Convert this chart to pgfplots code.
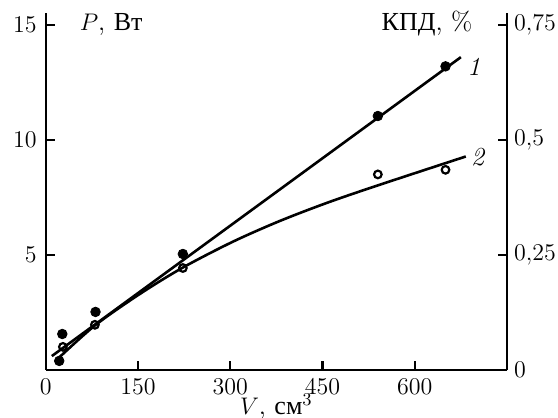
\documentclass[border=0pt]{standalone}
\usepackage{fontspec}
\newfontfamily\cyr{Liberation Serif}
\usepackage{pgfplots}
\pgfplotsset{compat=1.18}
\begin{document}
\begin{tikzpicture}
\pgfplotsset{
  common/.style={
    scale only axis, width=230.75pt, height=178.5pt,
    xmin=0, xmax=750,
    tick align=inside, major tick length=4.5pt,
    axis line style={line width=1.1pt, -},
    tick style={line width=1.1pt, black},
    ticklabel style={font=\fontsize{13}{15}\selectfont},
    label style={font=\fontsize{13}{15}\selectfont},
    clip=false,
  }
}
\begin{axis}[common,
  ymin=0, ymax=15.52,
  axis x line*=bottom, axis y line*=left,
  xtick={0,150,300,450,600}, ytick={5,10,15},
  xlabel={$V$, {\cyr см}$^3$},
  xlabel style={at={(axis description cs:0.5,0)}, anchor=base, yshift=-22.3pt},
  yticklabel style={xshift=-1pt},
  xticklabel style={yshift=-1pt},
]
\addplot[line width=1.3pt, no marks] coordinates {(10,0.6) (675,13.6)};
\addplot[line width=1.3pt, no marks, smooth, tension=0.5] coordinates {
  (16,0.39) (80,1.93) (153,3.30) (223,4.45) (304,5.57) (381,6.48) (460,7.29) (543,8.05) (683,9.28)};
\addplot[only marks, mark=*, mark size=2.4pt] coordinates {
  (22,0.39) (27,1.56) (81,2.52) (223,5.04) (540,11.04) (650,13.2)};
\addplot[only marks, mark=o, mark size=1.9pt, mark options={line width=1.1pt, fill=white}] coordinates {
  (28,1.0) (80,1.96) (223,4.43) (540,8.5) (650,8.7)};
\node[anchor=base west, font=\fontsize{13}{15}\selectfont] at (axis cs:44,14.75) {$P$, {\cyr Вт}};
\node[anchor=base east, font=\fontsize{13}{15}\selectfont] at (axis cs:705,14.75) {{\cyr КПД}, \%};
\node[font=\fontsize{13}{15}\selectfont\itshape] at (axis cs:696,13.17) {1};
\node[font=\fontsize{13}{15}\selectfont\itshape] at (axis cs:702,9.26) {2};
\coordinate (sw) at (rel axis cs:0,0);
\coordinate (ne) at (rel axis cs:1,1);
\end{axis}
\begin{axis}[common,
  ymin=0, ymax=0.776,
  axis x line=none, axis y line*=right,
  ytick={0,0.25,0.5,0.75},
  yticklabel style={/pgf/number format/.cd, use comma, fixed, precision=2},
]
\end{axis}
\pgfresetboundingbox
\path ([shift={(-22.85pt,-24pt)}]sw) rectangle ([shift={(25.5pt,6.5pt)}]ne);
\end{tikzpicture}
\end{document}
